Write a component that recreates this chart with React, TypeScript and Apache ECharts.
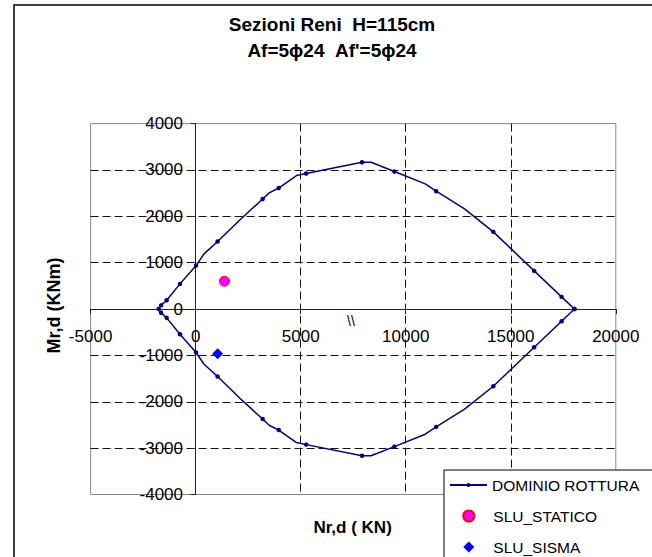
import React, { useEffect, useRef } from "react";
import * as echarts from "echarts";

const titleLines = ["Sezioni Reni  H=115cm", "Af=5\u03d524  Af'=5\u03d524"];
const xTitle = "Nr,d ( KN)";
const yTitle = "Mr,d (KNm)";
const breakMark = "\\\\";

const xMin = -5000;
const xMax = 20000;
const xStep = 5000;
const yMin = -4000;
const yMax = 4000;
const yStep = 1000;

// Failure domain polygon (N, M); 1 = marker drawn, 0 = vertex without marker
const dominioN = [
  18030, 17420, 16115, 14170, 12800, 11450, 10930, 9460, 8350, 7920, 5260, 4800, 3955, 3500, 3190, 2190, 1045, 400, 20, -745, -1380, -1645, -1760,
  -1645, -1380, -745, 20, 400, 1045, 2190, 3190, 3500, 3955, 4800, 5260, 7920, 8350, 9460, 10930, 11450, 12800, 14170, 16115, 17420, 18030,
];
const dominioM = [
  0, 262, 823, 1665, 2160, 2542, 2700, 2967, 3165, 3165, 2924, 2880, 2610, 2506, 2373, 1960, 1456, 1190, 938, 543, 190, 80, 0,
  -80, -190, -543, -938, -1190, -1456, -1960, -2373, -2506, -2610, -2880, -2924, -3165, -3165, -2967, -2700, -2542, -2160, -1665, -823, -262, 0,
];
const dominioMarker = [
  1, 1, 1, 1, 0, 1, 0, 1, 0, 1, 1, 0, 1, 0, 1, 0, 1, 0, 1, 1, 1, 1, 1,
  1, 1, 1, 1, 0, 1, 0, 1, 0, 1, 0, 1, 1, 0, 1, 0, 1, 0, 1, 1, 1, 1,
];

const staticoN = [1370];
const staticoM = [600];
const sismaN = [1050];
const sismaM = [-965];

const seriesNames = ["DOMINIO ROTTURA", "SLU_STATICO", "SLU_SISMA"];

const FONT = "'Liberation Sans', Arial, sans-serif";

export default function App() {
  const ref = useRef<HTMLDivElement>(null);

  useEffect(() => {
    if (!ref.current) return;
    const chart = echarts.init(ref.current, undefined, { renderer: "svg" });

    const dominioData = dominioN.map((n, i) =>
      dominioMarker[i] ? [n, dominioM[i]] : { value: [n, dominioM[i]], symbol: "none" }
    );

    const labelStyle = { fontFamily: FONT, fontSize: 17, color: "#000", formatter: (v: number) => String(v) };
    const legendText = { fontFamily: FONT, fontSize: 15.5, color: "#000", lineHeight: 18 };

    const gridLeft = 90.6;
    const gridTop = 123.6;
    const gridRight = 36.2;
    const gridBottom = 62.5;

    const option: any = {
      animation: false,
      backgroundColor: "#fff",
      grid: {
        left: gridLeft,
        right: gridRight,
        top: gridTop,
        bottom: gridBottom,
        show: true,
        borderColor: "#888",
        borderWidth: 1,
        backgroundColor: "transparent",
        containLabel: false,
        outerBoundsMode: "none",
      },
      xAxis: {
        type: "value",
        min: xMin,
        max: xMax,
        interval: xStep,
        axisLine: { onZero: true, lineStyle: { color: "#222", width: 1 } },
        axisTick: { show: true, length: 5, lineStyle: { color: "#222" } },
        axisLabel: { ...labelStyle, margin: -166.5 },
        splitLine: {
          show: true,
          showMinLine: false,
          showMaxLine: false,
          lineStyle: { type: [8, 4], color: "#111", width: 1 },
        },
      },
      yAxis: {
        type: "value",
        min: yMin,
        max: yMax,
        interval: yStep,
        axisLine: { onZero: true, lineStyle: { color: "#222", width: 1 } },
        axisTick: { show: true, length: 5, lineStyle: { color: "#222" } },
        axisLabel: { ...labelStyle, margin: -92.4 },
        splitLine: {
          show: true,
          showMinLine: false,
          showMaxLine: false,
          lineStyle: { type: [8, 4], color: "#111", width: 1 },
        },
      },
      legend: [
        {
          data: [seriesNames[0]],
          orient: "vertical",
          left: 449,
          top: 476,
          itemWidth: 37,
          itemHeight: 5,
          padding: 0,
          textStyle: legendText,
          z: 60,
        },
        {
          data: [
            { name: seriesNames[1], icon: "circle" },
            { name: seriesNames[2], icon: "diamond" },
          ],
          orient: "vertical",
          left: 462.3,
          top: 507,
          itemWidth: 11,
          itemHeight: 11,
          itemGap: 13,
          padding: 0,
          textStyle: { ...legendText, padding: [0, 0, 0, 14] },
          z: 60,
        },
      ],
      graphic: [
        {
          type: "rect",
          shape: { x: 14, y: 5, width: 700, height: 600 },
          style: { fill: "none", stroke: "#000", lineWidth: 1.5 },
          z: 1,
        },
        {
          type: "text",
          x: 332,
          y: 24,
          style: { text: titleLines[0], fontFamily: FONT, fontSize: 19, fontWeight: "bold", fill: "#000", textAlign: "center", textVerticalAlign: "middle" },
        },
        {
          type: "text",
          x: 332,
          y: 50,
          style: { text: titleLines[1], fontFamily: FONT, fontSize: 19, fontWeight: "bold", fill: "#000", textAlign: "center", textVerticalAlign: "middle" },
        },
        {
          type: "text",
          x: 352.6,
          y: 527.5,
          style: { text: xTitle, fontFamily: FONT, fontSize: 17, fontWeight: "bold", fill: "#000", textAlign: "center", textVerticalAlign: "middle" },
        },
        {
          type: "text",
          x: 54,
          y: 305.5,
          rotation: Math.PI / 2,
          style: { text: yTitle, fontFamily: FONT, fontSize: 18, fontWeight: "bold", fill: "#000", textAlign: "center", textVerticalAlign: "middle" },
        },
        {
          type: "text",
          x: 351,
          y: 321,
          style: { text: breakMark, fontFamily: FONT, fontSize: 14, fill: "#000", textAlign: "center", textVerticalAlign: "middle" },
        },
        {
          type: "rect",
          shape: { x: 444, y: 470, width: 300, height: 200 },
          style: { fill: "#fff", stroke: "#000", lineWidth: 1 },
          z: 50,
        },
      ],
      series: [
        {
          name: seriesNames[0],
          type: "line",
          data: dominioData,
          symbol: "circle",
          symbolSize: 4.5,
          showSymbol: true,
          lineStyle: { color: "#000080", width: 1.5 },
          itemStyle: { color: "#000080" },
          z: 3,
        },
        {
          name: seriesNames[1],
          type: "scatter",
          data: staticoN.map((n, i) => [n, staticoM[i]]),
          symbol: "circle",
          symbolSize: 10,
          itemStyle: { color: "#FF00FF", borderColor: "#FF0000", borderWidth: 1, opacity: 1 },
          z: 4,
        },
        {
          name: seriesNames[2],
          type: "scatter",
          data: sismaN.map((n, i) => [n, sismaM[i]]),
          symbol: "diamond",
          symbolSize: 11,
          itemStyle: { color: "#0000FF", opacity: 1 },
          z: 4,
        },
      ],
    };

    chart.setOption(option);
    return () => {
      chart.dispose();
    };
  }, []);

  return (
    <div
      ref={ref}
      style={{ position: "absolute", left: 0, top: 0, width: 652, height: 557 }}
    />
  );
}
